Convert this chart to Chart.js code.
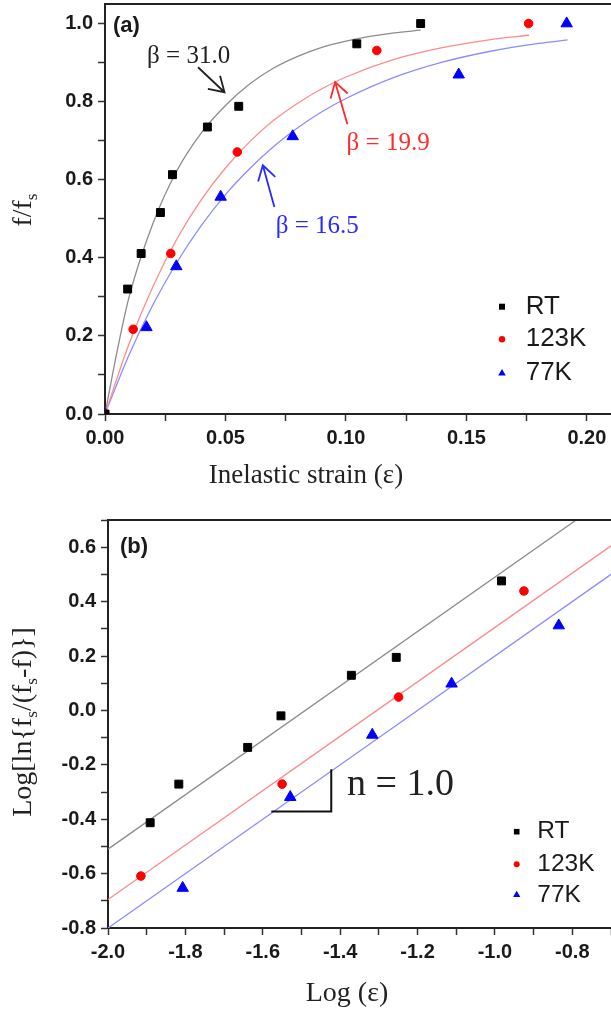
<!DOCTYPE html>
<html lang="en">
<head>
<meta charset="UTF-8" />
<title>f/fs vs inelastic strain</title>
<script src="https://cdn.jsdelivr.net/npm/chart.js"></script>
<style>
  body { margin: 0; background: #fff; width: 611px; height: 1012px; position: relative; overflow: hidden; }
  .box { position: absolute; left: 0; width: 611px; }
</style>
</head>
<body>
<div class="box" style="top: 0;"><canvas id="chartA" width="611" height="500"></canvas></div>
<div class="box" style="top: 500px;"><canvas id="chartB" width="611" height="512"></canvas></div>
<script>
// ---- panel (a): measured points ----
const rtStrain   = [0, 0.0094, 0.015, 0.023, 0.028, 0.0425, 0.0555, 0.1045, 0.131];
const rtFrac     = [0, 0.32, 0.411, 0.516, 0.613, 0.735, 0.788, 0.948, 1.0];
const k123Strain = [0, 0.0117, 0.0273, 0.0549, 0.1128, 0.1758];
const k123Frac   = [0, 0.217, 0.411, 0.671, 0.931, 1.0];
const k77Strain  = [0, 0.0172, 0.0296, 0.048, 0.0779, 0.1468, 0.1916];
const k77Frac    = [0, 0.222, 0.378, 0.556, 0.711, 0.869, 1.0];

// ---- panel (a): fitted curves ----
const rtFitX   = [0, 0.005, 0.01, 0.02, 0.03, 0.04, 0.05, 0.06, 0.07, 0.08, 0.09, 0.10, 0.11, 0.12, 0.131];
const rtFitY   = [0, 0.16, 0.30, 0.49, 0.625, 0.72, 0.79, 0.845, 0.886, 0.916, 0.939, 0.955, 0.967, 0.976, 0.983];
const k123FitX = [0, 0.01, 0.02, 0.03, 0.04, 0.05, 0.06, 0.07, 0.08, 0.09, 0.10, 0.12, 0.14, 0.16, 0.176];
const k123FitY = [0, 0.180, 0.328, 0.450, 0.549, 0.630, 0.697, 0.752, 0.796, 0.833, 0.863, 0.908, 0.938, 0.959, 0.970];
const k77FitX  = [0, 0.01, 0.02, 0.03, 0.04, 0.05, 0.06, 0.07, 0.08, 0.09, 0.10, 0.12, 0.14, 0.16, 0.18, 0.192];
const k77FitY  = [0, 0.152, 0.281, 0.390, 0.483, 0.562, 0.628, 0.685, 0.733, 0.774, 0.808, 0.862, 0.901, 0.929, 0.949, 0.958];

// ---- panel (b): log plot ----
const rtLogStrain   = [-1.891, -1.817, -1.639, -1.553, -1.371, -1.255, -0.983];
const rtLogLn       = [-0.413, -0.271, -0.136, -0.020, 0.129, 0.195, 0.476];
const k123LogStrain = [-1.915, -1.550, -1.249, -0.925];
const k123LogLn     = [-0.609, -0.271, 0.049, 0.439];
const k77LogStrain  = [-1.807, -1.529, -1.317, -1.112, -0.835];
const k77LogLn      = [-0.653, -0.319, -0.090, 0.098, 0.312];
const rtLineX   = [-2.0, -0.79], rtLineY   = [-0.51, 0.70];
const k123LineX = [-2.0, -0.70], k123LineY = [-0.695, 0.605];
const k77LineX  = [-2.0, -0.70], k77LineY  = [-0.80, 0.50];

const seriesNames = ['RT', '123K', '77K'];
const pointColors = ['#000000', '#ff0000', '#0000ff'];
const lineColors  = ['#8c8c8c', '#ff8c8c', '#8c8cff'];
const pointStyles = ['rect', 'circle', 'triangle'];
const pointSizes  = [5.6, 4.3, 6.6];

const pairs = (xs, ys) => xs.map((v, i) => ({ x: v, y: ys[i] }));
const isMult = (v, s) => Math.abs(v / s - Math.round(v / s)) < 1e-6;

function pointSet(i, xs, ys) {
  return {
    label: seriesNames[i], data: pairs(xs, ys), showLine: false, order: 0,
    pointStyle: pointStyles[i], pointRadius: pointSizes[i],
    pointBackgroundColor: pointColors[i], pointBorderColor: pointColors[i], pointBorderWidth: 1
  };
}
function lineSet(i, xs, ys) {
  return {
    label: seriesNames[i] + ' fit', data: pairs(xs, ys), showLine: true, order: 1,
    pointRadius: 0, borderColor: lineColors[i], borderWidth: 1.3,
    cubicInterpolationMode: 'monotone', fill: false
  };
}

const tickFont = { family: '"Liberation Sans", Arial, sans-serif', size: 20, weight: 'bold' };
function axis(min, max, step, every, digits, width, height) {
  return {
    type: 'linear', min: min, max: max,
    ticks: {
      stepSize: step, includeBounds: false, autoSkip: false, maxRotation: 0,
      font: tickFont, color: '#1a1a1a', padding: 5,
      callback: v => {
        if (Math.abs(v) < 1e-9) v = 0;
        return isMult(v, every) ? v.toFixed(digits) : '';
      }
    },
    grid: { display: true, drawOnChartArea: false, drawTicks: true, tickLength: 7, tickColor: '#333', tickWidth: 1.5 },
    border: { display: true, color: '#222', width: 2 },
    afterFit: s => {
      if (width) s.width = width;
      if (height) s.height = height;
      // keep the plot box where the picture has it
      s.paddingLeft = 0; s.paddingRight = 0; s.paddingTop = 0; s.paddingBottom = 0;
    }
  };
}

// helpers for the overlay text
function richText(ctx, parts, cx, cy, size, rotated, color) {
  ctx.save();
  ctx.translate(cx, cy);
  if (rotated) ctx.rotate(-Math.PI / 2);
  ctx.fillStyle = color || '#222';
  ctx.textBaseline = 'alphabetic';
  ctx.textAlign = 'left';
  let total = 0;
  parts.forEach(p => {
    ctx.font = (p.sub ? size * 0.62 : size) + 'px "Liberation Serif", serif';
    p.w = ctx.measureText(p.t).width;
    total += p.w;
  });
  let x = -total / 2;
  parts.forEach(p => {
    ctx.font = (p.sub ? size * 0.62 : size) + 'px "Liberation Serif", serif';
    ctx.fillText(p.t, x, p.sub ? size * 0.52 : size * 0.33);
    x += p.w;
  });
  ctx.restore();
}

function arrow(ctx, x0, y0, x1, y1, color) {
  const ang = Math.atan2(y0 - y1, x0 - x1);
  const len = 17, spread = 0.55;
  ctx.save();
  ctx.strokeStyle = color;
  ctx.lineWidth = 1.8;
  ctx.beginPath();
  ctx.moveTo(x0, y0); ctx.lineTo(x1, y1);
  ctx.moveTo(x1 + len * Math.cos(ang - spread), y1 + len * Math.sin(ang - spread));
  ctx.lineTo(x1, y1);
  ctx.lineTo(x1 + len * Math.cos(ang + spread), y1 + len * Math.sin(ang + spread));
  ctx.stroke();
  ctx.restore();
}

function legendBlock(ctx, x, ys, textX, size, marks) {
  ctx.save();
  ys.forEach((y, i) => {
    ctx.fillStyle = pointColors[i];
    ctx.beginPath();
    if (i === 0) ctx.rect(x - marks[0], y - marks[0], marks[0] * 2, marks[0] * 2);
    else if (i === 1) ctx.arc(x, y, marks[1], 0, Math.PI * 2);
    else { ctx.moveTo(x, y - marks[2]); ctx.lineTo(x + marks[2] * 0.87, y + marks[2] * 0.5); ctx.lineTo(x - marks[2] * 0.87, y + marks[2] * 0.5); ctx.closePath(); }
    ctx.fill();
    ctx.fillStyle = '#1a1a1a';
    ctx.font = size + 'px "Liberation Sans", Arial, sans-serif';
    ctx.textBaseline = 'middle';
    ctx.textAlign = 'left';
    ctx.fillText(seriesNames[i], textX, y);
  });
  ctx.restore();
}

function topFrame(chart) {
  const { ctx, chartArea } = chart;
  ctx.save();
  ctx.strokeStyle = '#222';
  ctx.lineWidth = 2;
  ctx.beginPath();
  ctx.moveTo(chartArea.left, chartArea.top);
  ctx.lineTo(chartArea.right, chartArea.top);
  ctx.stroke();
  ctx.restore();
}

const panelA = {
  id: 'panelA',
  afterDraw(chart) {
    const { ctx, scales: { x, y } } = chart;
    topFrame(chart);
    ctx.save();
    ctx.fillStyle = '#1a1a1a';
    ctx.font = 'bold 22px "Liberation Sans", Arial, sans-serif';
    ctx.textBaseline = 'middle';
    ctx.fillText('(a)', 113, 26);

    ctx.font = '25px "Liberation Serif", serif';
    ctx.textAlign = 'center';
    ctx.fillStyle = '#222';
    ctx.fillText('β = 31.0', x.getPixelForValue(0.0347), y.getPixelForValue(0.916));
    ctx.fillStyle = '#ff2a2a';
    ctx.fillText('β = 19.9', x.getPixelForValue(0.1175), y.getPixelForValue(0.693));
    ctx.fillStyle = '#2a2aff';
    ctx.fillText('β = 16.5', x.getPixelForValue(0.0881), y.getPixelForValue(0.481));
    ctx.restore();

    arrow(ctx, x.getPixelForValue(0.0386), y.getPixelForValue(0.888), x.getPixelForValue(0.0496), y.getPixelForValue(0.824), '#222');
    arrow(ctx, x.getPixelForValue(0.1006), y.getPixelForValue(0.742), x.getPixelForValue(0.0955), y.getPixelForValue(0.850), '#ff2a2a');
    arrow(ctx, x.getPixelForValue(0.0703), y.getPixelForValue(0.530), x.getPixelForValue(0.0655), y.getPixelForValue(0.637), '#2a2aff');

    richText(ctx, [{ t: 'Inelastic strain (ε)' }], 306, 474, 27, false);
    richText(ctx, [{ t: 'f/f' }, { t: 's', sub: true }], 22, 210, 28, true);

    legendBlock(ctx, 502, [306.7, 339.3, 373.3], 525.7, 26, [3, 3.2, 4.4]);
  }
};

const panelB = {
  id: 'panelB',
  afterDraw(chart) {
    const { ctx, scales: { x, y } } = chart;
    topFrame(chart);
    ctx.save();
    ctx.fillStyle = '#1a1a1a';
    ctx.font = 'bold 22px "Liberation Sans", Arial, sans-serif';
    ctx.textBaseline = 'middle';
    ctx.fillText('(b)', 120, 47);

    // slope marker
    ctx.strokeStyle = '#111';
    ctx.lineWidth = 2;
    ctx.beginPath();
    ctx.moveTo(x.getPixelForValue(-1.578), y.getPixelForValue(-0.372));
    ctx.lineTo(x.getPixelForValue(-1.423), y.getPixelForValue(-0.372));
    ctx.lineTo(x.getPixelForValue(-1.423), y.getPixelForValue(-0.216));
    ctx.stroke();
    ctx.fillStyle = '#222';
    ctx.font = '38px "Liberation Serif", serif';
    ctx.fillText('n = 1.0', x.getPixelForValue(-1.382), y.getPixelForValue(-0.274));
    ctx.restore();

    richText(ctx, [{ t: 'Log (ε)' }], 347, 492, 28, false);
    richText(ctx, [{ t: 'Log[ln{f' }, { t: 's', sub: true }, { t: '/(f' }, { t: 's', sub: true }, { t: '-f)}]' }], 22, 222, 28, true);

    legendBlock(ctx, 516.7, [331.7, 364.3, 395], 537.3, 24.5, [2.8, 3, 4.2]);
  }
};

const common = {
  responsive: false,
  animation: false,
  plugins: { legend: { display: false }, tooltip: { enabled: false } }
};

new Chart(document.getElementById('chartA'), {
  type: 'scatter',
  data: {
    datasets: [
      pointSet(0, rtStrain, rtFrac),
      pointSet(1, k123Strain, k123Frac),
      pointSet(2, k77Strain, k77Frac),
      lineSet(0, rtFitX, rtFitY),
      lineSet(1, k123FitX, k123FitY),
      lineSet(2, k77FitX, k77FitY)
    ]
  },
  options: Object.assign({}, common, {
    layout: { autoPadding: false, padding: { top: 4, right: 0, left: 0, bottom: 0 } },
    scales: {
      x: axis(0, 0.21, 0.025, 0.05, 2, 0, 86),
      y: axis(0, 1.05, 0.1, 0.2, 1, 105, 0)
    }
  }),
  plugins: [panelA]
});

new Chart(document.getElementById('chartB'), {
  type: 'scatter',
  data: {
    datasets: [
      pointSet(0, rtLogStrain, rtLogLn),
      pointSet(1, k123LogStrain, k123LogLn),
      pointSet(2, k77LogStrain, k77LogLn),
      lineSet(0, rtLineX, rtLineY),
      lineSet(1, k123LineX, k123LineY),
      lineSet(2, k77LineX, k77LineY)
    ]
  },
  options: Object.assign({}, common, {
    layout: { autoPadding: false, padding: { top: 20, right: 0, left: 0, bottom: 0 } },
    scales: {
      x: axis(-2.0, -0.7, 0.1, 0.2, 1, 0, 84),
      y: axis(-0.8, 0.7, 0.1, 0.2, 1, 108, 0)
    }
  }),
  plugins: [panelB]
});
</script>
</body>
</html>
